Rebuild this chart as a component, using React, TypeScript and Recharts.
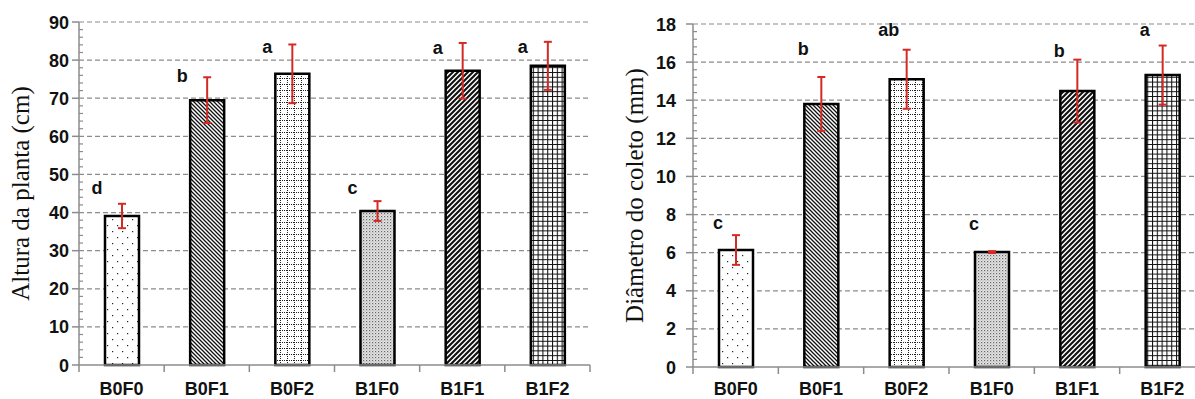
import React from "react";
import {
  BarChart, Bar, XAxis, YAxis, CartesianGrid, ErrorBar, LabelList, Cell,
} from "recharts";

// ── dados ──
const categorias = ["B0F0", "B0F1", "B0F2", "B1F0", "B1F1", "B1F2"];

const altura = [39.1, 69.5, 76.4, 40.4, 77.2, 78.5];
const alturaErro = [3.2, 6.0, 7.7, 2.6, 7.3, 6.3];
const alturaLetras = ["d", "b", "a", "c", "a", "a"];
const alturaLetraEm = [46.5, 75.9, 83.5, 46.5, 83.2, 83.5];
const alturaTicks = [0, 10, 20, 30, 40, 50, 60, 70, 80, 90];

const diametro = [6.14, 13.8, 15.1, 6.03, 14.48, 15.32];
const diametroErro = [0.78, 1.42, 1.55, 0.05, 1.65, 1.55];
const diametroLetras = ["c", "b", "ab", "c", "b", "a"];
const diametroLetraEm = [7.55, 16.7, 17.7, 7.5, 16.6, 17.7];
const diametroTicks = [0, 2, 4, 6, 8, 10, 12, 14, 16, 18];

const AXIS = "#8c8c8c";
const RED = "#d42a26";
const ARIAL = "'Liberation Sans', Arial, sans-serif";
const TIMES = "'Liberation Serif', 'Times New Roman', serif";

function comMenores(majors: number[]) {
  const out: number[] = [];
  for (let i = 0; i < majors.length; i++) {
    out.push(majors[i]);
    if (i < majors.length - 1) {
      const step = (majors[i + 1] - majors[i]) / 5;
      for (let k = 1; k < 5; k++) out.push(majors[i] + k * step);
    }
  }
  return out;
}

function Patterns({ id }: { id: string }) {
  return (
    <defs>
      {/* pontos esparsos */}
      <pattern id={`${id}-p0`} patternUnits="userSpaceOnUse" width={10} height={12}>
        <rect width={10} height={12} fill="#fff" />
        <rect x={2} y={3} width={1.2} height={1.2} fill="#222" />
        <rect x={7} y={9} width={1.2} height={1.2} fill="#222" />
      </pattern>
      {/* diagonal \\ */}
      <pattern id={`${id}-p1`} patternUnits="userSpaceOnUse" width={4} height={4}>
        <rect width={4} height={4} fill="#fff" />
        <path d="M-1,-1 L5,5 M-1,3 L1,5 M3,-1 L5,1" stroke="#111" strokeWidth={1.3} />
      </pattern>
      {/* grade pontilhada */}
      <pattern id={`${id}-p2`} patternUnits="userSpaceOnUse" width={7} height={6}>
        <rect width={7} height={6} fill="#fff" />
        <path d="M0.5,0 L0.5,6" stroke="#222" strokeWidth={1} strokeDasharray="1 1" />
        <path d="M0,0.5 L7,0.5" stroke="#222" strokeWidth={1} strokeDasharray="1 1" />
      </pattern>
      {/* pontilhado fino */}
      <pattern id={`${id}-p3`} patternUnits="userSpaceOnUse" width={3} height={3}>
        <rect width={3} height={3} fill="#e4e4e4" />
        <rect x={0} y={0} width={1.2} height={1.2} fill="#666" />
        <rect x={1.5} y={1.5} width={1} height={1} fill="#9a9a9a" />
      </pattern>
      {/* diagonal // */}
      <pattern id={`${id}-p4`} patternUnits="userSpaceOnUse" width={5} height={5}>
        <rect width={5} height={5} fill="#fff" />
        <path d="M-1,6 L6,-1 M-1,1 L1,-1 M4,6 L6,4" stroke="#111" strokeWidth={2.1} />
      </pattern>
      {/* grade quadriculada */}
      <pattern id={`${id}-p5`} patternUnits="userSpaceOnUse" width={4.8} height={4.8}>
        <rect width={4.8} height={4.8} fill="#fff" />
        <path d="M0.5,0 L0.5,4.8 M0,0.5 L4.8,0.5" stroke="#111" strokeWidth={1.1} />
      </pattern>
    </defs>
  );
}

interface PainelProps {
  id: string;
  left: number;
  width: number;
  marginTop: number;
  marginRight: number;
  yAxisWidth: number;
  xAxisHeight: number;
  valores: number[];
  erros: number[];
  letras: string[];
  letraEm: number[];
  letraDx: number;
  ticks: number[];
  titulo: string;
  tituloX: number;
  tickGap: number;
  xLabelDy: number;
}

function Painel(p: PainelProps) {
  const H = 399;
  const data = categorias.map((c, i) => ({ nome: c, valor: p.valores[i], erro: p.erros[i] }));
  const plotW = p.width - p.yAxisWidth - p.marginRight;
  const bw = plotW / categorias.length;
  const todos = comMenores(p.ticks);
  const max = p.ticks[p.ticks.length - 1];

  const YTick = (t: any) => {
    const v = t.payload.value;
    const major = p.ticks.includes(v);
    if (!major) {
      return <line x1={t.x} x2={t.x + 4} y1={t.y} y2={t.y} stroke={AXIS} strokeWidth={1.2} />;
    }
    return (
      <g>
        <line x1={t.x - 7} x2={t.x} y1={t.y} y2={t.y} stroke={AXIS} strokeWidth={1.5} />
        <text x={t.x - p.tickGap} y={t.y + 6.5} textAnchor="end" fontFamily={ARIAL}
          fontWeight="bold" fontSize={18} fill="#111">{v}</text>
      </g>
    );
  };

  const XTick = (t: any) => (
    <g>
      <line x1={t.x - bw / 2} x2={t.x - bw / 2} y1={t.y} y2={t.y + 7} stroke={AXIS} strokeWidth={1.5} />
      {t.index === categorias.length - 1 && (
        <line x1={t.x + bw / 2} x2={t.x + bw / 2} y1={t.y} y2={t.y + 7} stroke={AXIS} strokeWidth={1.5} />
      )}
      <text x={t.x} y={t.y + p.xLabelDy} textAnchor="middle" fontFamily={ARIAL}
        fontWeight="bold" fontSize={18} fill="#111">{t.payload.value}</text>
    </g>
  );

  const Letra = (props: any) => {
    const i = props.index;
    const vb = props.viewBox ?? props;
    const x = vb.x ?? props.x;
    const y = vb.y ?? props.y;
    const w = vb.width ?? props.width;
    const h = vb.height ?? props.height;
    const yy = y + h - (p.letraEm[i] * h) / p.valores[i];
    return (
      <text x={x + w / 2 + p.letraDx} y={yy} textAnchor="middle" dominantBaseline="central"
        fontFamily={ARIAL} fontWeight="bold" fontSize={18} fill="#111">{p.letras[i]}</text>
    );
  };

  const Titulo = (props: any) => {
    const vb = props.viewBox;
    const cy = vb.y + vb.height / 2;
    return (
      <text transform={`translate(${p.tituloX}, ${cy}) rotate(-90)`} textAnchor="middle"
        fontFamily={TIMES} fontSize={25} fill="#111">{p.titulo}</text>
    );
  };

  return (
    <div style={{ position: "absolute", left: p.left, top: 0 }}>
      <BarChart width={p.width} height={H} data={data}
        margin={{ top: p.marginTop, right: p.marginRight, bottom: 0, left: 0 }} barSize={34}>
        <Patterns id={p.id} />
        <CartesianGrid vertical={false} horizontalValues={p.ticks.slice(1)}
          stroke={AXIS} strokeDasharray="5 3" strokeWidth={1.2} />
        <XAxis dataKey="nome" height={p.xAxisHeight} tickLine={false} tickSize={0} tickMargin={0}
          axisLine={{ stroke: AXIS, strokeWidth: 1.5 }} tick={<XTick />} interval={0} />
        <YAxis type="number" domain={[0, max]} ticks={todos} interval={0} width={p.yAxisWidth}
          tickLine={false} tickSize={0} tickMargin={0}
          axisLine={{ stroke: AXIS, strokeWidth: 1.5 }} tick={<YTick />}
          label={<Titulo />} />
        <Bar dataKey="valor" stroke="#000" strokeWidth={2.5} isAnimationActive={false}>
          {data.map((_, i) => (
            <Cell key={i} fill={`url(#${p.id}-p${i})`} />
          ))}
          <ErrorBar dataKey="erro" width={4} strokeWidth={2} stroke={RED} isAnimationActive={false} />
          <LabelList dataKey="valor" content={<Letra />} />
        </Bar>
      </BarChart>
    </div>
  );
}

export default function App() {
  return (
    <div style={{ position: "absolute", left: 0, top: 0, width: 1195, height: 399, overflow: "hidden", background: "#fff" }}>
      <Painel id="alt" left={0} width={600} marginTop={22} marginRight={10} yAxisWidth={79}
        xAxisHeight={34} valores={altura} erros={alturaErro} letras={alturaLetras}
        letraEm={alturaLetraEm} letraDx={-25} ticks={alturaTicks}
        titulo="Altura da planta (cm)" tituloX={29} tickGap={10} xLabelDy={30} />
      <Painel id="dia" left={600} width={620} marginTop={24} marginRight={15} yAxisWidth={93}
        xAxisHeight={32} valores={diametro} erros={diametroErro} letras={diametroLetras}
        letraEm={diametroLetraEm} letraDx={-18} ticks={diametroTicks}
        titulo="Diâmetro do coleto (mm)" tituloX={43} tickGap={17} xLabelDy={28} />
    </div>
  );
}
